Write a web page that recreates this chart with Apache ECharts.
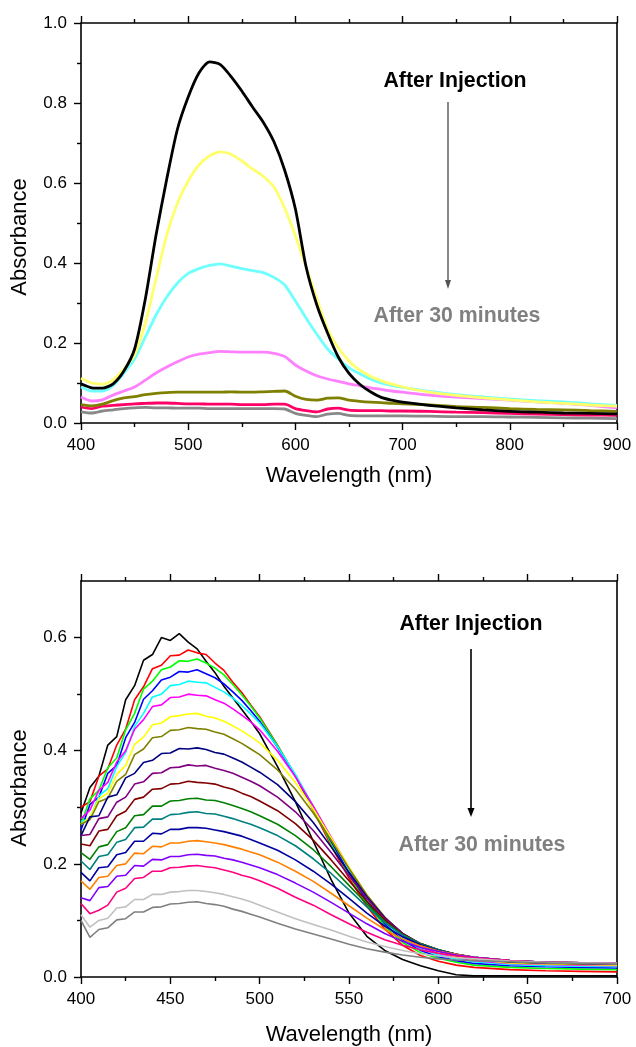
<!DOCTYPE html>
<html><head><meta charset="utf-8">
<script src="https://cdn.jsdelivr.net/npm/echarts@6/dist/echarts.min.js"></script>
<style>html,body{margin:0;padding:0;background:#fff}#c{width:636px;height:1047px}</style>
</head><body><div id="c"></div>
<script>
// ---------- Top panel data (wavelength nm, absorbance) ----------
const wlTop = [400,410,420,430,440,450,460,470,480,490,500,510,520,530,540,550,560,570,580,590,600,610,620,630,640,650,660,670,680,690,700,725,750,775,800,825,850,875,900];
const topBlack  = [0.098,0.088,0.087,0.098,0.13,0.185,0.31,0.47,0.61,0.735,0.815,0.875,0.903,0.896,0.866,0.83,0.79,0.752,0.703,0.632,0.535,0.39,0.295,0.225,0.165,0.124,0.097,0.078,0.064,0.057,0.052,0.044,0.038,0.033,0.029,0.027,0.025,0.024,0.023];
const topYellow = [0.112,0.1,0.097,0.108,0.135,0.17,0.25,0.36,0.47,0.55,0.605,0.645,0.668,0.678,0.672,0.655,0.635,0.617,0.59,0.537,0.468,0.39,0.31,0.235,0.188,0.155,0.132,0.117,0.106,0.097,0.09,0.077,0.069,0.063,0.058,0.053,0.049,0.045,0.042];
const topCyan   = [0.09,0.08,0.08,0.094,0.125,0.16,0.215,0.27,0.315,0.35,0.374,0.386,0.394,0.398,0.392,0.386,0.381,0.376,0.364,0.345,0.305,0.262,0.222,0.185,0.16,0.138,0.123,0.11,0.1,0.094,0.089,0.079,0.071,0.065,0.06,0.056,0.053,0.048,0.044];
const topViolet = [0.065,0.055,0.058,0.07,0.08,0.09,0.107,0.125,0.14,0.153,0.165,0.172,0.176,0.179,0.178,0.177,0.177,0.177,0.174,0.166,0.145,0.13,0.118,0.11,0.104,0.098,0.093,0.088,0.084,0.08,0.077,0.07,0.065,0.061,0.057,0.053,0.049,0.044,0.038];
const topOlive  = [0.046,0.043,0.047,0.056,0.063,0.066,0.071,0.074,0.076,0.077,0.077,0.077,0.077,0.077,0.078,0.077,0.077,0.078,0.079,0.08,0.067,0.059,0.057,0.062,0.063,0.057,0.054,0.052,0.051,0.049,0.048,0.045,0.041,0.039,0.036,0.034,0.033,0.031,0.029];
const topPink   = [0.04,0.036,0.042,0.044,0.046,0.048,0.049,0.05,0.05,0.049,0.048,0.048,0.047,0.047,0.047,0.046,0.046,0.046,0.047,0.047,0.036,0.031,0.028,0.035,0.037,0.032,0.031,0.031,0.031,0.03,0.03,0.029,0.027,0.026,0.024,0.022,0.021,0.02,0.019];
const topGray   = [0.028,0.025,0.03,0.033,0.036,0.038,0.039,0.038,0.038,0.037,0.037,0.037,0.036,0.036,0.036,0.036,0.036,0.036,0.036,0.035,0.024,0.019,0.016,0.022,0.024,0.019,0.018,0.018,0.018,0.018,0.018,0.017,0.016,0.016,0.015,0.014,0.013,0.012,0.011];
const topColors = ['#000000','#ffff6e','#6effff','#ff80ff','#808000','#ff0066','#888888'];

// ---------- Bottom panel data ----------
const wlBot = [400,405,410,415,420,425,430,435,440,445,450,455,460,465,470,475,480,485,490,495,500,510,520,530,540,550,560,570,580,590,600,610,620,640,660,680,700];
const bBlack   = [0.29,0.335,0.355,0.41,0.425,0.49,0.515,0.56,0.57,0.60,0.595,0.607,0.592,0.58,0.558,0.538,0.514,0.493,0.473,0.452,0.43,0.372,0.31,0.24,0.172,0.113,0.072,0.047,0.031,0.02,0.011,0.004,0.002,0.002,0.002,0.002,0.002];
const bRed     = [0.30,0.31,0.355,0.368,0.41,0.438,0.49,0.513,0.545,0.551,0.568,0.569,0.578,0.573,0.57,0.555,0.542,0.521,0.503,0.481,0.46,0.41,0.355,0.295,0.232,0.175,0.125,0.085,0.056,0.038,0.028,0.021,0.017,0.013,0.011,0.01,0.009];
const bGreen   = [0.27,0.315,0.33,0.37,0.387,0.437,0.466,0.509,0.523,0.543,0.548,0.559,0.558,0.562,0.555,0.546,0.534,0.517,0.499,0.479,0.458,0.409,0.356,0.297,0.236,0.18,0.13,0.09,0.061,0.043,0.033,0.026,0.021,0.017,0.015,0.014,0.013];
const bBlue    = [0.26,0.305,0.318,0.36,0.374,0.423,0.45,0.491,0.506,0.525,0.53,0.54,0.539,0.543,0.536,0.529,0.518,0.504,0.489,0.471,0.452,0.406,0.355,0.299,0.24,0.184,0.134,0.094,0.065,0.047,0.036,0.029,0.024,0.02,0.018,0.017,0.016];
const bCyan    = [0.275,0.28,0.32,0.333,0.372,0.397,0.443,0.466,0.495,0.5,0.515,0.517,0.523,0.521,0.52,0.512,0.504,0.493,0.48,0.465,0.449,0.407,0.358,0.302,0.245,0.19,0.139,0.098,0.069,0.05,0.039,0.032,0.027,0.022,0.02,0.019,0.018];
const bMagenta = [0.28,0.295,0.33,0.344,0.38,0.4,0.438,0.455,0.478,0.481,0.494,0.495,0.5,0.498,0.497,0.49,0.484,0.474,0.463,0.451,0.437,0.399,0.354,0.302,0.247,0.193,0.143,0.102,0.072,0.053,0.042,0.035,0.029,0.024,0.022,0.021,0.02];
const bYellow  = [0.27,0.282,0.315,0.325,0.358,0.374,0.411,0.424,0.446,0.449,0.46,0.462,0.465,0.466,0.461,0.458,0.452,0.444,0.435,0.425,0.414,0.383,0.344,0.297,0.246,0.194,0.145,0.105,0.075,0.056,0.044,0.036,0.031,0.025,0.023,0.022,0.021];
const bOlive   = [0.27,0.278,0.31,0.316,0.346,0.358,0.393,0.403,0.423,0.425,0.436,0.437,0.441,0.439,0.438,0.433,0.429,0.421,0.413,0.403,0.393,0.366,0.332,0.29,0.242,0.192,0.145,0.106,0.076,0.057,0.046,0.038,0.032,0.026,0.024,0.023,0.022];
const bNavy    = [0.25,0.283,0.285,0.318,0.322,0.352,0.36,0.379,0.383,0.395,0.396,0.404,0.403,0.405,0.402,0.397,0.394,0.387,0.38,0.371,0.362,0.34,0.31,0.273,0.23,0.185,0.142,0.105,0.077,0.058,0.047,0.039,0.033,0.027,0.025,0.024,0.023];
const bPurple  = [0.25,0.252,0.28,0.283,0.309,0.318,0.341,0.345,0.36,0.361,0.37,0.371,0.375,0.373,0.374,0.369,0.365,0.36,0.353,0.346,0.338,0.318,0.292,0.259,0.22,0.179,0.139,0.104,0.077,0.059,0.048,0.04,0.034,0.028,0.025,0.024,0.023];
const bWine    = [0.235,0.232,0.258,0.261,0.285,0.293,0.314,0.318,0.332,0.333,0.341,0.342,0.346,0.344,0.343,0.341,0.336,0.332,0.325,0.319,0.311,0.294,0.271,0.242,0.207,0.17,0.134,0.101,0.076,0.059,0.048,0.04,0.034,0.028,0.026,0.025,0.024];
const bDkGreen = [0.22,0.208,0.23,0.234,0.257,0.264,0.285,0.287,0.302,0.302,0.311,0.312,0.315,0.316,0.313,0.312,0.308,0.303,0.298,0.292,0.285,0.27,0.25,0.225,0.195,0.162,0.129,0.098,0.075,0.059,0.048,0.04,0.035,0.029,0.026,0.025,0.024];
const bTeal    = [0.205,0.19,0.213,0.216,0.238,0.243,0.264,0.265,0.279,0.279,0.287,0.288,0.291,0.292,0.289,0.288,0.284,0.28,0.275,0.27,0.264,0.25,0.232,0.209,0.183,0.154,0.124,0.096,0.074,0.058,0.048,0.04,0.035,0.029,0.026,0.025,0.024];
const bRoyal   = [0.185,0.17,0.193,0.195,0.216,0.22,0.24,0.24,0.254,0.253,0.261,0.261,0.264,0.264,0.263,0.26,0.257,0.253,0.249,0.243,0.237,0.224,0.207,0.187,0.164,0.139,0.113,0.09,0.071,0.057,0.047,0.04,0.035,0.029,0.026,0.025,0.024];
const bOrange  = [0.17,0.155,0.176,0.178,0.197,0.2,0.219,0.218,0.231,0.23,0.237,0.237,0.24,0.241,0.239,0.237,0.234,0.23,0.226,0.221,0.216,0.203,0.187,0.169,0.148,0.126,0.104,0.084,0.067,0.055,0.046,0.04,0.035,0.029,0.026,0.025,0.024];
const bViolet  = [0.14,0.135,0.158,0.16,0.178,0.18,0.197,0.196,0.208,0.207,0.213,0.213,0.216,0.217,0.215,0.214,0.21,0.207,0.203,0.198,0.193,0.181,0.166,0.15,0.132,0.113,0.094,0.077,0.063,0.052,0.045,0.039,0.035,0.029,0.026,0.025,0.024];
const bPink    = [0.13,0.112,0.118,0.127,0.15,0.157,0.174,0.176,0.187,0.187,0.193,0.194,0.196,0.197,0.195,0.193,0.189,0.185,0.18,0.176,0.17,0.157,0.141,0.127,0.11,0.094,0.079,0.066,0.056,0.048,0.042,0.037,0.034,0.029,0.026,0.025,0.024];
const bLtGray  = [0.11,0.088,0.1,0.104,0.122,0.124,0.137,0.137,0.146,0.146,0.15,0.151,0.153,0.153,0.151,0.149,0.146,0.142,0.138,0.133,0.127,0.115,0.103,0.093,0.083,0.072,0.062,0.054,0.047,0.041,0.037,0.034,0.032,0.028,0.026,0.025,0.024];
const bGray    = [0.1,0.07,0.084,0.087,0.101,0.103,0.115,0.115,0.123,0.124,0.129,0.13,0.132,0.133,0.13,0.128,0.125,0.12,0.116,0.111,0.106,0.095,0.085,0.076,0.067,0.058,0.05,0.044,0.039,0.035,0.032,0.03,0.029,0.027,0.025,0.024,0.023];
const botColors = ['#000000','#ff0000','#00ff00','#0000ff','#00ffff','#ff00ff','#ffff00','#808000','#000080','#800080','#800000','#008000','#008080','#0000a0','#ff8000','#8000ff','#ff0080','#c0c0c0','#808080'];

const botYMajor = [0,0.2,0.4,0.6];
const botYMinor = [0.1,0.3,0.5];

const FONT = "'Liberation Sans', Arial, Helvetica, sans-serif";
const topSets = [topBlack,topYellow,topCyan,topViolet,topOlive,topPink,topGray];
const botSets = [bBlack,bRed,bGreen,bBlue,bCyan,bMagenta,bYellow,bOlive,bNavy,bPurple,bWine,bDkGreen,bTeal,bRoyal,bOrange,bViolet,bPink,bLtGray,bGray];

const pair = (xs, ys) => xs.map((x, i) => [x, ys[i]]);
const series = [];
topSets.forEach((ys, i) => series.push({
  type: 'line', xAxisIndex: 0, yAxisIndex: 0, data: pair(wlTop, ys), showSymbol: false,
  smooth: 0.25, lineStyle: { color: topColors[i], width: 2.8 }, itemStyle: { color: topColors[i] }, z: 3 + (topSets.length - i) * 0.01
}));
botSets.forEach((ys, i) => series.push({
  type: 'line', xAxisIndex: 2, yAxisIndex: 2, data: pair(wlBot, ys), showSymbol: false,
  smooth: false, lineStyle: { color: botColors[i], width: 1.6 }, itemStyle: { color: botColors[i] }
}));

const axLine = { show: true, onZero: false, lineStyle: { color: '#000', width: 1.6 } };
const tick = (len) => ({ show: true, inside: false, length: len, lineStyle: { color: '#000', width: 1.4 } });
const minor = { show: true, splitNumber: 2, length: 4, lineStyle: { color: '#000', width: 1.4 } };
const lab = (extra) => Object.assign({ color: '#000', fontSize: 17, fontFamily: FONT }, extra || {});

const option = {
  animation: false,
  backgroundColor: '#fff',
  grid: [
    { left: 81, top: 23, width: 536, height: 400, containLabel: false },
    { left: 81, top: 581, width: 536, height: 399, containLabel: false }
  ],
  xAxis: [
    { gridIndex: 0, type: 'value', position: 'bottom', min: 400, max: 900, interval: 100,
      axisLine: axLine, axisTick: tick(7), minorTick: minor, splitLine: { show: false },
      axisLabel: lab({ margin: 14 }),
      name: 'Wavelength (nm)', nameLocation: 'middle', nameGap: 42,
      nameTextStyle: { color: '#000', fontSize: 22, fontFamily: FONT } },
    { gridIndex: 0, type: 'value', position: 'top', min: 400, max: 900, interval: 100,
      axisLine: axLine, axisTick: tick(7), minorTick: minor, splitLine: { show: false },
      axisLabel: { show: false } },
    { gridIndex: 1, type: 'value', position: 'bottom', min: 400, max: 700, interval: 50,
      axisLine: axLine, axisTick: tick(7), minorTick: minor, splitLine: { show: false },
      axisLabel: lab({ margin: 14 }),
      name: 'Wavelength (nm)', nameLocation: 'middle', nameGap: 47,
      nameTextStyle: { color: '#000', fontSize: 22, fontFamily: FONT } },
    { gridIndex: 1, type: 'value', position: 'top', min: 400, max: 700, interval: 50,
      axisLine: axLine, axisTick: tick(7), minorTick: minor, splitLine: { show: false },
      axisLabel: { show: false } }
  ],
  yAxis: [
    { gridIndex: 0, type: 'value', position: 'left', min: 0, max: 1, interval: 0.2,
      axisLine: axLine, axisTick: tick(7), minorTick: minor, splitLine: { show: false },
      axisLabel: lab({ margin: 14, formatter: v => v.toFixed(1) }) },
    { gridIndex: 0, type: 'value', position: 'right', min: 0, max: 1,
      axisLine: axLine, axisTick: { show: false }, axisLabel: { show: false }, splitLine: { show: false } },
    { gridIndex: 1, type: 'value', position: 'left', min: 0, max: 0.7, interval: 0.1,
      axisLine: axLine,
      axisTick: Object.assign(tick(7), { customValues: botYMajor }),
      splitLine: { show: false },
      axisLabel: lab({ margin: 14, customValues: botYMajor, formatter: v => v.toFixed(1) }) },
    { gridIndex: 1, type: 'value', position: 'right', min: 0, max: 0.7,
      axisLine: axLine, axisTick: { show: false }, axisLabel: { show: false }, splitLine: { show: false } },
    { gridIndex: 1, type: 'value', position: 'left', min: 0, max: 0.7, interval: 0.1,
      axisLine: { show: false },
      axisTick: Object.assign(tick(4), { customValues: botYMinor }),
      axisLabel: { show: false }, splitLine: { show: false } }
  ],
  series: series,
  graphic: [
    { type: 'text', x: 20, y: 237, rotation: Math.PI / 2,
      style: { text: 'Absorbance', fill: '#000', font: '22px ' + FONT, align: 'center', verticalAlign: 'middle' } },
    { type: 'text', x: 20, y: 788, rotation: Math.PI / 2,
      style: { text: 'Absorbance', fill: '#000', font: '22px ' + FONT, align: 'center', verticalAlign: 'middle' } },
    { type: 'text', x: 455, y: 81,
      style: { text: 'After Injection', fill: '#000', font: 'bold 21.3px ' + FONT, align: 'center', verticalAlign: 'middle' } },
    { type: 'text', x: 457, y: 316,
      style: { text: 'After 30 minutes', fill: '#808080', font: 'bold 21.3px ' + FONT, align: 'center', verticalAlign: 'middle' } },
    { type: 'line', shape: { x1: 448, y1: 102, x2: 448, y2: 282 }, style: { stroke: '#555', lineWidth: 1.4 } },
    { type: 'polygon', shape: { points: [[445, 280], [451, 280], [448, 289]] }, style: { fill: '#555' } },
    { type: 'text', x: 471, y: 624,
      style: { text: 'After Injection', fill: '#000', font: 'bold 21.3px ' + FONT, align: 'center', verticalAlign: 'middle' } },
    { type: 'text', x: 482, y: 845,
      style: { text: 'After 30 minutes', fill: '#808080', font: 'bold 21.3px ' + FONT, align: 'center', verticalAlign: 'middle' } },
    { type: 'line', shape: { x1: 471, y1: 649, x2: 471, y2: 810 }, style: { stroke: '#000', lineWidth: 1.6 } },
    { type: 'polygon', shape: { points: [[467.5, 808], [474.5, 808], [471, 817]] }, style: { fill: '#000' } }
  ]
};
const chart = echarts.init(document.getElementById('c'), null, { renderer: 'canvas' });
chart.setOption(option);
</script>
</body></html>
